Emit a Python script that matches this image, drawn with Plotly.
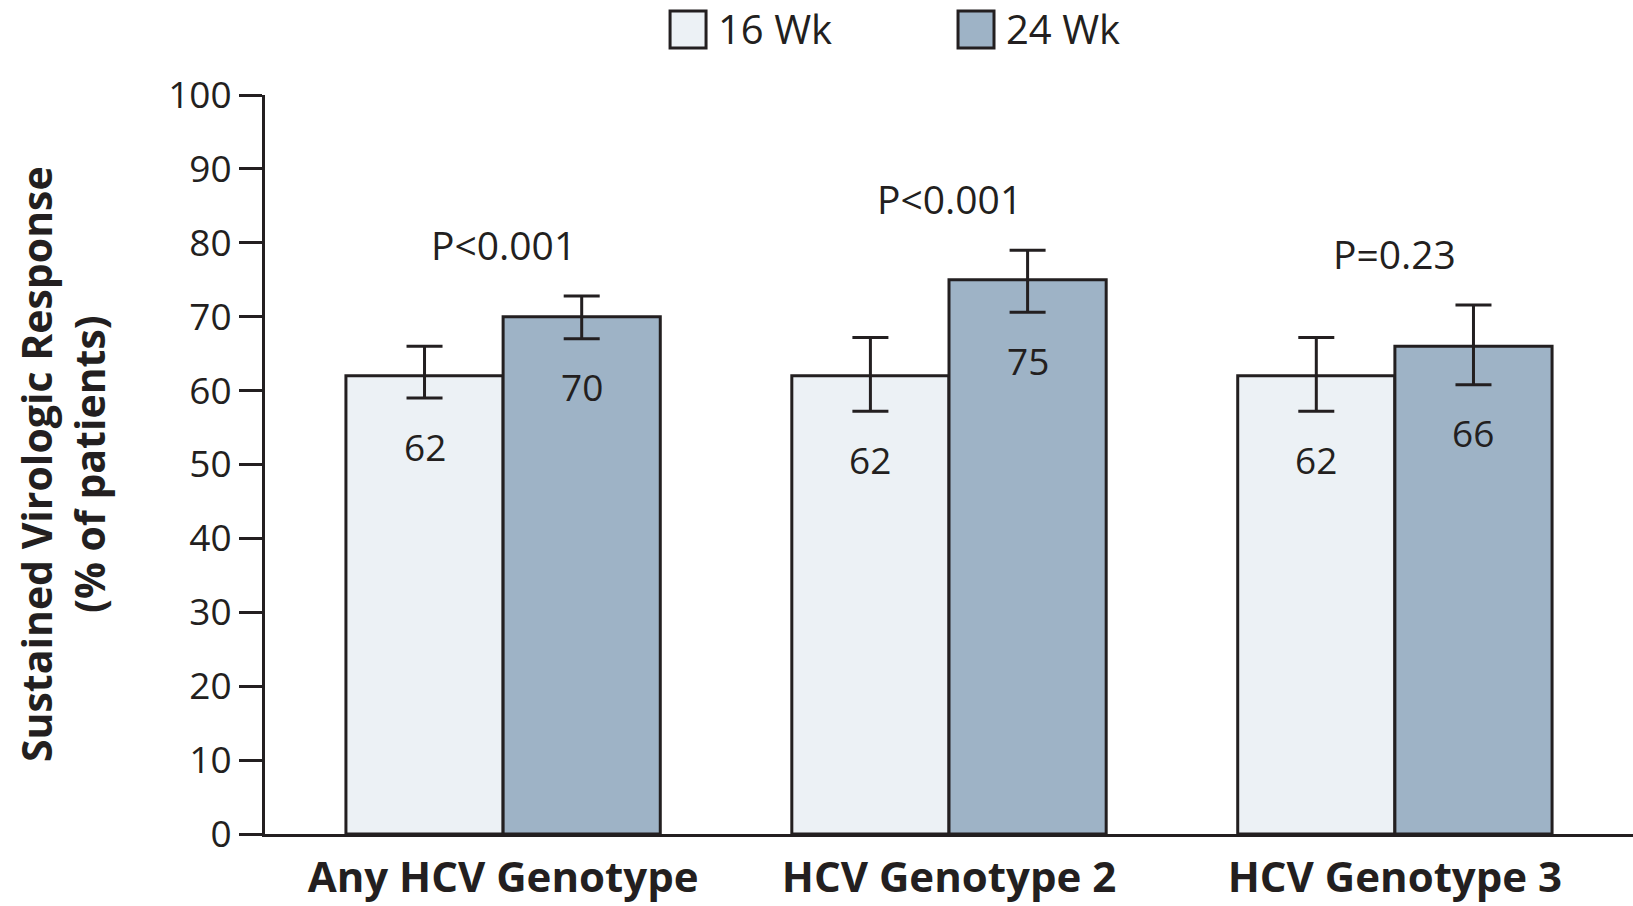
import plotly.graph_objects as go

# Sustained virologic response by treatment duration and HCV genotype
categories = ["Any HCV Genotype", "HCV Genotype 2", "HCV Genotype 3"]
series_names = ["16 Wk", "24 Wk"]
svr_16wk = [62, 62, 62]
svr_24wk = [70, 75, 66]
ci_16wk_low = [59, 57.2, 57.2]
ci_16wk_high = [66, 67.2, 67.2]
ci_24wk_low = [67, 70.6, 60.8]
ci_24wk_high = [72.8, 79, 71.6]
p_labels = ["P<0.001", "P<0.001", "P=0.23"]
y_ticks = [0, 10, 20, 30, 40, 50, 60, 70, 80, 90, 100]

INK = "#231F20"
FILL_16 = "#ECF1F5"
FILL_24 = "#9EB3C6"
FONT = "Open Sans"

x_idx = list(range(len(categories)))
bar_gap = 0.295
bar_w = (1 - bar_gap) / 2

fig = go.Figure()

series = [
    (series_names[0], svr_16wk, ci_16wk_low, ci_16wk_high, FILL_16, -bar_w),
    (series_names[1], svr_24wk, ci_24wk_low, ci_24wk_high, FILL_24, 0.0),
]

for name, vals, lo, hi, fill, off in series:
    fig.add_trace(go.Bar(
        x=x_idx, y=vals, name=name,
        width=bar_w, offset=off,
        marker=dict(color=fill, line=dict(color=INK, width=3)),
        error_y=dict(type="data", symmetric=False,
                     array=[h - v for h, v in zip(hi, vals)],
                     arrayminus=[v - l for v, l in zip(vals, lo)],
                     color=INK, thickness=3, width=18),
        showlegend=False,
    ))

annotations = []
# value labels below the lower whisker of each bar
for name, vals, lo, hi, fill, off in series:
    for i, v in enumerate(vals):
        annotations.append(dict(
            x=x_idx[i] + off + bar_w / 2, y=lo[i] - 6.5, xref="x", yref="y",
            text=str(v), showarrow=False,
            font=dict(family=FONT, size=37, color=INK),
            xanchor="center", yanchor="middle",
        ))

# P values above each pair
for i, p in enumerate(p_labels):
    top = max(ci_16wk_high[i], ci_24wk_high[i])
    annotations.append(dict(
        x=x_idx[i], y=top + 7, xref="x", yref="y",
        text=p, showarrow=False,
        font=dict(family=FONT, size=39, color=INK),
        xanchor="center", yanchor="middle",
    ))

# y-axis title
annotations.append(dict(
    x=-0.148, y=0.5, xref="paper", yref="paper",
    text="<b>Sustained Virologic Response</b><br><b>(% of patients)</b>",
    textangle=-90, showarrow=False,
    font=dict(family=FONT, size=41, color=INK),
    xanchor="center", yanchor="middle",
))

# legend: swatches and labels along the top
shapes = []
legend_items = [(series_names[0], FILL_16, 0.2961), (series_names[1], FILL_24, 0.5066)]
for name, fill, x0 in legend_items:
    shapes.append(dict(
        type="rect", xref="paper", yref="paper",
        x0=x0, x1=x0 + 0.0263, y0=1.0636, y1=1.1137,
        fillcolor=fill, line=dict(color=INK, width=3),
    ))
    annotations.append(dict(
        x=x0 + 0.0263 + 0.0075, y=1.0900, xref="paper", yref="paper",
        text=name, showarrow=False,
        font=dict(family=FONT, size=40, color=INK),
        xanchor="left", yanchor="middle",
    ))

fig.update_layout(
    width=1633, height=906,
    margin=dict(l=265, r=0, t=95, b=72),
    paper_bgcolor="white", plot_bgcolor="white",
    barmode="overlay",
    showlegend=False,
    annotations=annotations,
    shapes=shapes,
    font=dict(family=FONT, color=INK),
)

fig.update_xaxes(
    range=[-0.534, 2.534],
    tickvals=x_idx, ticktext=["<b>%s</b>" % c for c in categories],
    tickfont=dict(family=FONT, size=42, color=INK),
    showline=True, linecolor=INK, linewidth=3,
    ticks="", showgrid=False, zeroline=False,
    ticklabelstandoff=5,
)
fig.update_yaxes(
    range=[0, 100],
    tickvals=y_ticks,
    tickfont=dict(family=FONT, size=37, color=INK),
    showline=True, linecolor=INK, linewidth=3,
    ticks="outside", ticklen=23, tickwidth=3, tickcolor=INK,
    showgrid=False, zeroline=False,
    ticklabelstandoff=0,
)

fig.write_html("out.html")
